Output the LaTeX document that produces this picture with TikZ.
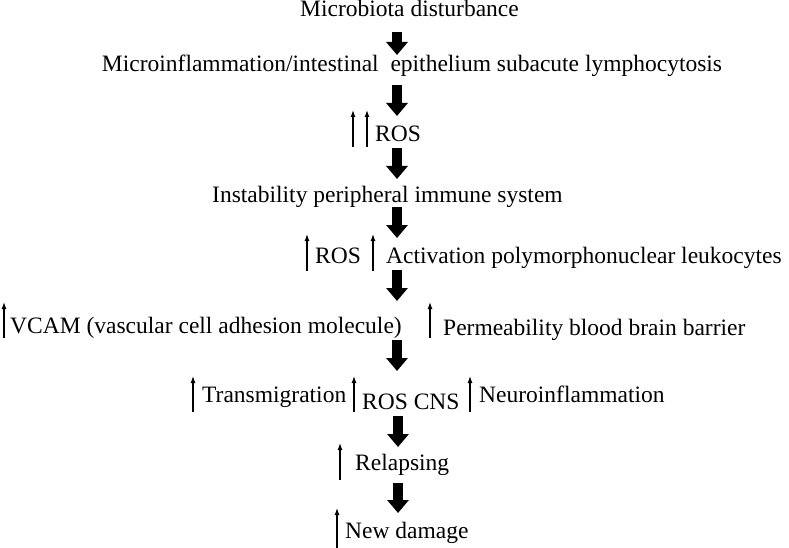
\documentclass[tikz,border=0pt]{standalone}
\usepackage{fontspec}
\setmainfont{Liberation Serif}
\usetikzlibrary{arrows.meta}
\begin{document}
\begin{tikzpicture}[x=1pt,y=-1pt,
  txt/.style={inner sep=0pt,anchor=base west,font=\fontsize{23.5}{28}\selectfont},
  bigarrow/.style={line width=10pt,-{Triangle[length=13pt,width=21pt]}},
  uparrow/.style={line width=1.2pt,-{Latex[length=7pt,width=5pt]}}]
\useasboundingbox[fill=white] (0,0) rectangle (789,548);
% texts
\node[txt] (t1) at (300,17) {Microbiota disturbance};
\node[txt,anchor=base] (t2) at (412,72) {Microinflammation/intestinal\ \ epithelium subacute lymphocytosis};
\node[txt] (t3) at (375,142) {ROS};
\node[txt] (t4) at (212,202) {Instability peripheral immune system};
\node[txt] (t5a) at (315,263) {ROS};
\node[txt] (t5b) at (386,263) {Activation polymorphonuclear leukocytes};
\node[txt] (t6a) at (10,333) {VCAM (vascular cell adhesion molecule)};
\node[txt] (t6b) at (443,335) {Permeability blood brain barrier};
\node[txt] (t7a) at (202,402) {Transmigration};
\node[txt] (t7b) at (362,409) {ROS CNS};
\node[txt] (t7c) at (479,402) {Neuroinflammation};
\node[txt] (t8) at (355,470) {Relapsing};
\node[txt] (t9) at (345,538) {New damage};
% big arrow ends
\coordinate (b1s) at (397,32);  \coordinate (b1e) at (397,55);
\coordinate (b2s) at (397,85);  \coordinate (b2e) at (397,116);
\coordinate (b3s) at (397,148); \coordinate (b3e) at (397,179);
\coordinate (b4s) at (397,207); \coordinate (b4e) at (397,238);
\coordinate (b5s) at (397,270); \coordinate (b5e) at (397,301);
\coordinate (b6s) at (397,340); \coordinate (b6e) at (397,371);
\coordinate (b7s) at (398,416); \coordinate (b7e) at (398,447);
\coordinate (b8s) at (398,483); \coordinate (b8e) at (398,513);
\foreach \i in {1,...,8} \draw[bigarrow] (b\i s) -- (b\i e);
% small up arrows
\coordinate (u1s) at (353,147); \coordinate (u1e) at (353,110);
\coordinate (u2s) at (367,147); \coordinate (u2e) at (367,110);
\coordinate (u3s) at (307,271); \coordinate (u3e) at (307,234);
\coordinate (u4s) at (373,271); \coordinate (u4e) at (373,234);
\coordinate (u5s) at (4,338);   \coordinate (u5e) at (4,302);
\coordinate (u6s) at (430,338); \coordinate (u6e) at (430,302);
\coordinate (u7s) at (193,412); \coordinate (u7e) at (193,376);
\coordinate (u8s) at (354,412); \coordinate (u8e) at (354,376);
\coordinate (u9s) at (470,412); \coordinate (u9e) at (470,376);
\coordinate (u10s) at (340,480); \coordinate (u10e) at (340,443);
\coordinate (u11s) at (337,548); \coordinate (u11e) at (337,508);
\foreach \i in {1,...,11} \draw[uparrow] (u\i s) -- (u\i e);
\end{tikzpicture}
\end{document}
